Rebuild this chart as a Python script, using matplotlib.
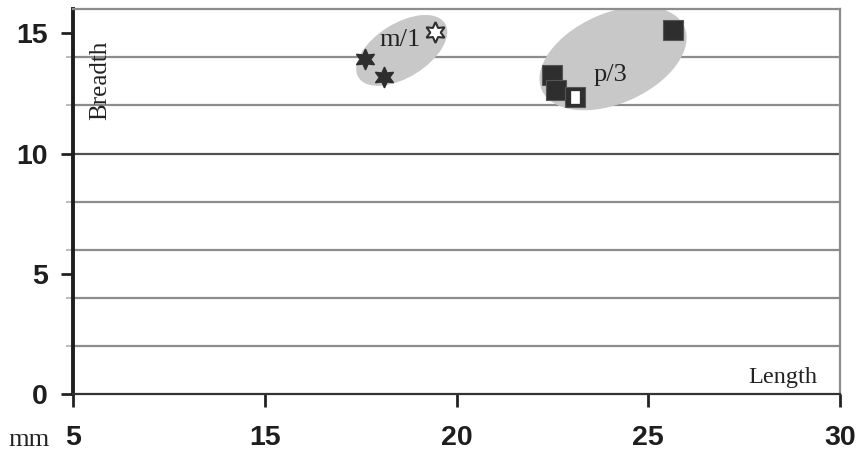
import matplotlib
matplotlib.use("Agg")
import matplotlib.pyplot as plt
import matplotlib.transforms as mtransforms
from matplotlib.patches import Ellipse
from matplotlib.path import Path

# ---- data ----
m1_x = [17.6, 18.1]
m1_y = [13.95, 13.2]
m1_open_x = [19.45]
m1_open_y = [15.05]
p3_x = [25.65, 22.5, 22.6, 23.1]
p3_y = [15.15, 13.25, 12.65, 12.35]
p3_mark_x = [23.1]
p3_mark_y = [12.35]

x_ticks = [10, 15, 20, 25, 30]
x_tick_labels = ["5", "15", "20", "25", "30"]
y_ticks = [0, 5, 10, 15]
y_tick_labels = ["0", "5", "10", "15"]
grid_levels = [2, 4, 6, 8, 10, 12, 14]

groups = ["m/1", "p/3"]
group_label_x = [18.53, 24.02]
group_label_y = [14.71, 13.25]
group_center_x = [18.57, 24.08]
group_center_y = [14.29, 13.96]

# ---- figure ----
fig = plt.figure(figsize=(8.59, 4.58), dpi=100)
ax = fig.add_axes([0.085, 0.1397, 0.978 - 0.085, 0.9797 - 0.1397])
ax.set_xlim(10, 30)
ax.set_ylim(0, 16)

dark = "#2e2e2e"
for lv in grid_levels:
    ax.axhline(lv, color="#505050" if lv == 10 else "#8c8c8c", lw=1.6, zorder=1)

# ellipses (pixel-sized, centred in data coords)
ell_specs = [(51, 27, 32), (78, 45, 24)]
for cx, cy, (a, b, ang) in zip(group_center_x, group_center_y, ell_specs):
    tr = fig.dpi_scale_trans + mtransforms.ScaledTranslation(cx, cy, ax.transData)
    e = Ellipse((0, 0), 2 * a / 100, 2 * b / 100, angle=ang, transform=tr,
                facecolor="#c8c8c8", edgecolor="none", zorder=2)
    ax.add_patch(e)

# points
ax.plot(m1_x, m1_y, linestyle="none", marker=(6, 1, 0), markersize=15,
        markerfacecolor=dark, markeredgecolor=dark, markeredgewidth=1.0, zorder=4)
ax.plot(m1_open_x, m1_open_y, linestyle="none", marker=(6, 1, 0), markersize=15,
        markerfacecolor="white", markeredgecolor=dark, markeredgewidth=1.5, zorder=4)
ax.plot(p3_x, p3_y, linestyle="none", marker="s", markersize=14,
        markerfacecolor=dark, markeredgecolor="#555555", markeredgewidth=0.8, zorder=4)
tall_rect = Path([(-0.33, -0.5), (0.33, -0.5), (0.33, 0.5), (-0.33, 0.5), (-0.33, -0.5)],
                 [Path.MOVETO, Path.LINETO, Path.LINETO, Path.LINETO, Path.CLOSEPOLY])
ax.plot(p3_mark_x, p3_mark_y, linestyle="none", marker=tall_rect, markersize=8,
        markerfacecolor="white", markeredgecolor="white", markeredgewidth=0.5, zorder=5)

serif = ["Liberation Serif", "DejaVu Serif"]
for g, lx, ly in zip(groups, group_label_x, group_label_y):
    ax.text(lx, ly, g, fontsize=19, family=serif, ha="center", va="center",
            color="#222222", zorder=6)

ax.text(0.035, 0.816, "Breadth", transform=ax.transAxes, rotation=90,
        fontsize=18, family=serif, ha="center", va="center", color="#222222")
ax.text(0.970, 0.029, "Length", transform=ax.transAxes,
        fontsize=17.5, family=serif, ha="right", va="baseline", color="#222222")
fig.text(0.034, 0.039, "mm", fontsize=19, family=serif, ha="center",
         va="center", color="#222222")

# spines
ax.spines["left"].set_linewidth(2.8)
ax.spines["left"].set_color("#1e1e1e")
ax.spines["bottom"].set_linewidth(1.6)
ax.spines["bottom"].set_color("#333333")
for s in ("top", "right"):
    ax.spines[s].set_linewidth(1.6)
    ax.spines[s].set_color("#8c8c8c")

# ticks
ax.set_xticks(x_ticks)
ax.set_xticklabels(x_tick_labels)
ax.set_yticks(y_ticks)
ax.set_yticklabels(y_tick_labels)
ax.set_yticks(grid_levels, minor=True)
ax.tick_params(axis="both", which="major", length=9, width=2, color="#222222",
               labelsize=20.5, labelcolor="#1e1e1e")
ax.tick_params(axis="x", which="major", pad=13)
ax.tick_params(axis="y", which="major", pad=9)
ax.tick_params(axis="y", which="minor", length=5, width=1.2, color="#b0b0b0")
for lab in ax.get_xticklabels() + ax.get_yticklabels():
    lab.set_family(["Liberation Sans", "DejaVu Sans"])
    lab.set_fontweight("bold")

fig.savefig("out.png", dpi=100)
